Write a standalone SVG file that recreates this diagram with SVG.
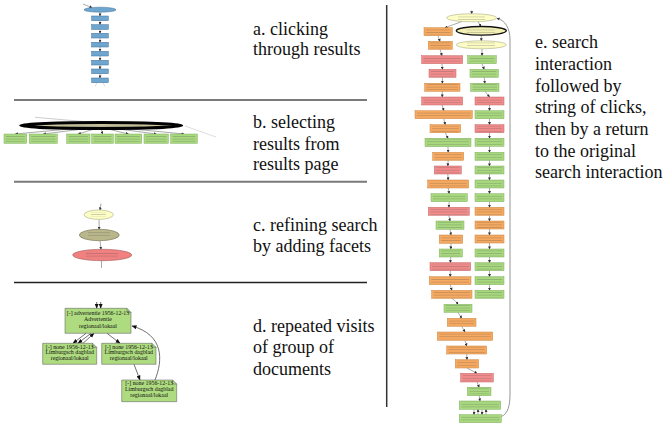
<svg xmlns="http://www.w3.org/2000/svg" width="664" height="426" viewBox="0 0 664 426">
<defs>
<style>
.lbl{font-family:"Liberation Serif","Times New Roman",serif;font-size:18px;fill:#111}
.nt{font-family:"Liberation Serif","Times New Roman",serif;font-size:5.9px;fill:#111;text-anchor:middle}
.g{fill:#a8d97e;stroke:#7fae5c;stroke-width:0.5}
.o{fill:#f6a960;stroke:#c98540;stroke-width:0.5}
.r{fill:#f28c8c;stroke:#c46464;stroke-width:0.5}
.y{fill:#fdfdc6;stroke:#9a9a70;stroke-width:0.5}
.bl{fill:#6fa6d0;stroke:#3f6f96;stroke-width:0.5}
.t{fill:url(#txt)}
.e{fill:none;stroke:#555;stroke-width:0.5;marker-end:url(#ah)}
.ed{fill:none;stroke:#333;stroke-width:0.7;marker-end:url(#ahd)}
.sep{stroke:#7a7a7a;stroke-width:2}
</style>
<pattern id="txt" width="4" height="2.6" patternUnits="userSpaceOnUse">
<rect x="0" y="1" width="4" height="0.6" fill="#444" fill-opacity="0.35"/>
</pattern>
<marker id="ah" markerWidth="3" markerHeight="3" refX="2.6" refY="1.5" orient="auto" markerUnits="userSpaceOnUse">
<path d="M0,0 L3,1.5 L0,3 Z" fill="#333"/>
</marker>
<marker id="ahd" markerWidth="5" markerHeight="5" refX="4.5" refY="2.5" orient="auto" markerUnits="userSpaceOnUse">
<path d="M0,0.5 L5,2.5 L0,4.5 Z" fill="#111"/>
</marker>
</defs>
<rect width="664" height="426" fill="#fff"/>

<g id="separators">
<line class="sep" x1="14" y1="100" x2="367" y2="100"/>
<line class="sep" x1="14" y1="181.7" x2="367" y2="181.7"/>
<line x1="14" y1="282.5" x2="367" y2="282.5" stroke="#222" stroke-width="1.3"/>
<line x1="386.7" y1="5" x2="386.7" y2="407" stroke="#333" stroke-width="1.5"/>
</g>

<g id="labels">
<text class="lbl" x="253" y="34.5">a. clicking</text>
<text class="lbl" x="253" y="55">through results</text>
<text class="lbl" x="253" y="128.3">b. selecting</text>
<text class="lbl" x="253" y="149.5">results from</text>
<text class="lbl" x="253" y="170">results page</text>
<text class="lbl" x="253" y="231">c. refining search</text>
<text class="lbl" x="253" y="252">by adding facets</text>
<text class="lbl" x="253" y="332">d. repeated visits</text>
<text class="lbl" x="253" y="353">of group of</text>
<text class="lbl" x="253" y="374.5">documents</text>
<text class="lbl" x="535" y="48">e. search</text>
<text class="lbl" x="535" y="70">interaction</text>
<text class="lbl" x="535" y="91.5">followed by</text>
<text class="lbl" x="535" y="113">string of clicks,</text>
<text class="lbl" x="535" y="135">then by a return</text>
<text class="lbl" x="535" y="156.5">to the original</text>
<text class="lbl" x="535" y="178">search interaction</text>
</g>

<g id="a-connectors">
<line class="e" x1="83" y1="4" x2="92" y2="7.6"/>
<line class="e" x1="100" y1="12.2" x2="100" y2="16"/>
<line class="e" x1="100" y1="20.7" x2="100" y2="24.7"/>
<line class="e" x1="100" y1="29.4" x2="100" y2="33.3"/>
<line class="e" x1="100" y1="38" x2="100" y2="42.3"/>
<line class="e" x1="100" y1="47" x2="100" y2="51.3"/>
<line class="e" x1="100" y1="56" x2="100" y2="60.3"/>
<line class="e" x1="100" y1="65" x2="100" y2="69"/>
<line class="e" x1="100" y1="73.7" x2="100" y2="78"/>
<line x1="97" y1="82.7" x2="95" y2="86.5" stroke="#bbb" stroke-width="0.5"/>
<line x1="103" y1="82.7" x2="105" y2="86.5" stroke="#bbb" stroke-width="0.5"/>
</g>
<g id="a-search"><ellipse class="bl" cx="100" cy="9.7" rx="16" ry="2.5"/></g>
<g id="a-n1"><rect class="bl" x="91.7" y="16" width="16.6" height="4.7"/></g>
<g id="a-n2"><rect class="bl" x="91.7" y="24.7" width="16.6" height="4.7"/></g>
<g id="a-n3"><rect class="bl" x="91.7" y="33.3" width="16.6" height="4.7"/></g>
<g id="a-n4"><rect class="bl" x="91.7" y="42.3" width="16.6" height="4.7"/></g>
<g id="a-n5"><rect class="bl" x="91.7" y="51.3" width="16.6" height="4.7"/></g>
<g id="a-n6"><rect class="bl" x="91.7" y="60.3" width="16.6" height="4.7"/></g>
<g id="a-n7"><rect class="bl" x="91.7" y="69" width="16.6" height="4.7"/></g>
<g id="a-n8"><rect class="bl" x="91.7" y="78" width="16.6" height="4.7"/></g>

<g id="b-connectors">
<line x1="35" y1="117.3" x2="96" y2="122.6" stroke="#aaa" stroke-width="0.6"/>
<line class="e" x1="80" y1="128" x2="15.3" y2="134"/>
<line class="e" x1="88" y1="128.4" x2="43.3" y2="134"/>
<line class="e" x1="96" y1="128.5" x2="78.3" y2="134"/>
<line class="e" x1="101" y1="128.5" x2="102.5" y2="134"/>
<line class="e" x1="106" y1="128.5" x2="128.3" y2="134"/>
<line class="e" x1="114" y1="128.4" x2="156.2" y2="134"/>
<line class="e" x1="122" y1="128" x2="184" y2="134"/>
<line x1="185" y1="126" x2="216" y2="137" stroke="#bbb" stroke-width="0.5"/>
</g>
<g id="b-search"><ellipse cx="101.2" cy="125.5" rx="80.5" ry="3" fill="#c9c6a0" stroke="#000" stroke-width="3"/><rect class="t" x="60" y="124" width="82" height="3"/></g>
<g id="b-n1"><rect class="g" x="4" y="134" width="22.7" height="9.3"/><rect class="t" x="6" y="135.5" width="18.7" height="6.5"/></g>
<g id="b-n2"><rect class="g" x="29.3" y="134" width="28" height="9.3"/><rect class="t" x="31.3" y="135.5" width="24" height="6.5"/></g>
<g id="b-n3"><rect class="g" x="66.7" y="134" width="23.3" height="9.3"/><rect class="t" x="68.7" y="135.5" width="19.3" height="6.5"/></g>
<g id="b-n4"><rect class="g" x="91.7" y="134" width="21.6" height="9.3"/><rect class="t" x="93.7" y="135.5" width="17.6" height="6.5"/></g>
<g id="b-n5"><rect class="g" x="115" y="134" width="26.7" height="9.3"/><rect class="t" x="117" y="135.5" width="22.7" height="6.5"/></g>
<g id="b-n6"><rect class="g" x="144" y="134" width="24.3" height="9.3"/><rect class="t" x="146" y="135.5" width="20.3" height="6.5"/></g>
<g id="b-n7"><rect class="g" x="170.7" y="134" width="26.6" height="9.3"/><rect class="t" x="172.7" y="135.5" width="22.6" height="6.5"/></g>

<g id="c-connectors">
<line class="e" x1="101" y1="203.5" x2="100" y2="210"/>
<line class="e" x1="99" y1="219.4" x2="99.2" y2="229.3"/>
<line class="e" x1="100" y1="240.7" x2="101" y2="249.3"/>
<line x1="101.5" y1="260.7" x2="101.5" y2="268" stroke="#555" stroke-width="0.5"/>
</g>
<g id="c-s1"><ellipse class="y" cx="98.7" cy="214.7" rx="14.7" ry="4.7"/><rect class="t" x="91" y="212" width="15" height="5"/></g>
<g id="c-s2"><ellipse cx="99.3" cy="235" rx="20" ry="5.7" fill="#b8b68a" stroke="#6e6c4a" stroke-width="0.6"/><rect class="t" x="88" y="232" width="22" height="5"/></g>
<g id="c-s3"><ellipse cx="102.2" cy="255" rx="29.5" ry="5.7" fill="#f18080" stroke="#a05a5a" stroke-width="0.6"/><rect class="t" x="86" y="252" width="32" height="5"/></g>

<g id="d-connectors">
<line class="ed" x1="96.7" y1="302" x2="96.7" y2="308.3"/>
<line class="ed" x1="100.7" y1="302" x2="100.7" y2="308.3"/>
<line class="ed" x1="86" y1="333.3" x2="73" y2="343.3"/>
<line class="ed" x1="91" y1="333.3" x2="78" y2="343.3"/>
<line class="ed" x1="83" y1="343.3" x2="94" y2="333.3"/>
<line class="ed" x1="107" y1="333.3" x2="120" y2="343.3"/>
<line class="ed" x1="134" y1="364.3" x2="140" y2="380"/>
<path class="ed" d="M155,380 C163,360 164,335 132,326"/>
</g>
<g id="d-a">
<path d="M65,308.3 H127 L131,312.3 V333.3 H65 Z" fill="#aedb80" stroke="#555" stroke-width="0.5"/>
<path d="M127,308.3 V312.3 H131" fill="none" stroke="#555" stroke-width="0.5"/>
<text class="nt" x="98" y="314.5">[-] advertentie 1956-12-13</text>
<text class="nt" x="98" y="321">Advertentie</text>
<text class="nt" x="98" y="327.7">regionaal/lokaal</text>
</g>
<g id="d-b">
<path d="M42.7,343.3 H92.7 L96.7,347.3 V364.3 H42.7 Z" fill="#aedb80" stroke="#555" stroke-width="0.5"/>
<path d="M92.7,343.3 V347.3 H96.7" fill="none" stroke="#555" stroke-width="0.5"/>
<text class="nt" x="69.7" y="348.5">[-] none 1956-12-13</text>
<text class="nt" x="69.7" y="354.3">Limburgsch dagblad</text>
<text class="nt" x="69.7" y="360.3">regionaal/lokaal</text>
</g>
<g id="d-c">
<path d="M101.7,343.3 H152 L156,347.3 V364.3 H101.7 Z" fill="#aedb80" stroke="#555" stroke-width="0.5"/>
<path d="M152,343.3 V347.3 H156" fill="none" stroke="#555" stroke-width="0.5"/>
<text class="nt" x="128.8" y="348.5">[-] none 1956-12-13</text>
<text class="nt" x="128.8" y="354.3">Limburgsch dagblad</text>
<text class="nt" x="128.8" y="360.3">regionaal/lokaal</text>
</g>
<g id="d-d">
<path d="M121.7,380 H172.7 L176.7,384 V401.7 H121.7 Z" fill="#aedb80" stroke="#555" stroke-width="0.5"/>
<path d="M172.7,380 V384 H176.7" fill="none" stroke="#555" stroke-width="0.5"/>
<text class="nt" x="149.2" y="385.3">[-] none 1956-12-13</text>
<text class="nt" x="149.2" y="391.1">Limburgsch dagblad</text>
<text class="nt" x="149.2" y="397.1">regionaal/lokaal</text>
</g>

<g id="e-connectors">
<line class="e" x1="471.7" y1="10.5" x2="471.7" y2="13.8"/>
<line class="e" x1="462" y1="21.5" x2="445" y2="27.7"/>
<line class="e" x1="478" y1="21.7" x2="481" y2="26.3"/>
<line class="e" x1="481.3" y1="35.3" x2="481.3" y2="40.8"/>
<line class="e" x1="482" y1="48.8" x2="482" y2="55.7"/>
<path d="M501.3,416.5 C508,414 510,405 510,395 L510,40 C510,28 505,20 497,18.5" fill="none" stroke="#888" stroke-width="0.9" marker-end="url(#ah)"/>
<line class="e" x1="438" y1="35.7" x2="440" y2="41.3"/>
<line class="e" x1="440" y1="49.3" x2="442" y2="55.7"/>
<line class="e" x1="442" y1="63.7" x2="442.5" y2="69.3"/>
<line class="e" x1="442.5" y1="77.3" x2="442.3" y2="83.3"/>
<line class="e" x1="442.3" y1="91.3" x2="442.2" y2="97"/>
<line class="e" x1="442.2" y1="105" x2="443.7" y2="110.7"/>
<line class="e" x1="443.7" y1="118.7" x2="445.3" y2="124.7"/>
<line class="e" x1="445.3" y1="132.7" x2="448" y2="138.3"/>
<line class="e" x1="448" y1="146.7" x2="448.2" y2="152.3"/>
<line class="e" x1="448.2" y1="160.3" x2="447.8" y2="166"/>
<line class="e" x1="447.8" y1="174" x2="448.2" y2="180"/>
<line class="e" x1="448.2" y1="188" x2="449.2" y2="193.7"/>
<line class="e" x1="449.2" y1="201.7" x2="448.8" y2="207.3"/>
<line class="e" x1="448.8" y1="215.3" x2="450" y2="221"/>
<line class="e" x1="450" y1="229.3" x2="451" y2="235"/>
<line class="e" x1="451" y1="243.3" x2="450.8" y2="249"/>
<line class="e" x1="450.8" y1="257" x2="450.3" y2="262.7"/>
<line class="e" x1="450.3" y1="270.7" x2="450.2" y2="276.7"/>
<line class="e" x1="450.2" y1="284.7" x2="451.8" y2="290.3"/>
<path class="e" d="M451.8,298.3 C454,300 456,301 458,304.3"/>
<line class="e" x1="458" y1="312.3" x2="461.7" y2="318.3"/>
<line class="e" x1="461.7" y1="326.3" x2="465" y2="332"/>
<line class="e" x1="465" y1="340.3" x2="466.7" y2="346"/>
<line class="e" x1="466.7" y1="354" x2="467" y2="359.7"/>
<line class="e" x1="467" y1="368" x2="477" y2="373.3"/>
<line class="e" x1="477" y1="382" x2="479.2" y2="387.3"/>
<line class="e" x1="479.2" y1="395.7" x2="480" y2="401"/>
<line class="e" x1="474" y1="409.3" x2="474" y2="414.7"/>
<line class="e" x1="478" y1="414.7" x2="478" y2="409.3"/>
<line class="e" x1="482" y1="409.3" x2="482" y2="414.7"/>
<line class="e" x1="486" y1="414.7" x2="486" y2="409.3"/>
<line class="e" x1="482" y1="63.7" x2="484.2" y2="69.3"/>
<line class="e" x1="484.2" y1="77.3" x2="484.9" y2="83.3"/>
<line class="e" x1="484.9" y1="91.3" x2="489.5" y2="97"/>
<line class="e" x1="489.5" y1="105" x2="489.5" y2="110.7"/>
<line class="e" x1="489.5" y1="118.7" x2="489.5" y2="124.7"/>
<line class="e" x1="489.5" y1="132.7" x2="489.5" y2="138.3"/>
<line class="e" x1="489.5" y1="146.3" x2="489.5" y2="152.3"/>
<line class="e" x1="489.5" y1="160.3" x2="489.5" y2="166"/>
<line class="e" x1="489.5" y1="174" x2="489.5" y2="180"/>
<line class="e" x1="489.5" y1="188" x2="489.5" y2="193.7"/>
<line class="e" x1="489.5" y1="201.7" x2="489.5" y2="207.3"/>
<line class="e" x1="489.5" y1="215.3" x2="489.5" y2="221"/>
<line class="e" x1="489.5" y1="229" x2="489.5" y2="235"/>
<line class="e" x1="489.5" y1="243" x2="489.5" y2="249"/>
<line class="e" x1="489.5" y1="257" x2="489.5" y2="262.7"/>
<line class="e" x1="489.5" y1="270.7" x2="489.5" y2="276.7"/>
<line class="e" x1="489.5" y1="284.7" x2="489.5" y2="290.3"/>
</g>

<g id="e-s1"><ellipse class="y" cx="471.7" cy="17.8" rx="25" ry="4"/><rect class="t" x="458" y="15" width="27" height="5.5"/></g>
<g id="e-s2"><ellipse cx="481.3" cy="30.8" rx="25" ry="4.3" fill="#f3f0b4" stroke="#111" stroke-width="1.4"/><rect class="t" x="467" y="28" width="28" height="5.5"/></g>
<g id="e-s3"><ellipse class="y" cx="481.3" cy="44.8" rx="25" ry="4"/><rect class="t" x="467" y="42" width="28" height="5.5"/></g>

<g id="e-l1"><rect class="o" x="424" y="27.7" width="28.3" height="8"/><rect class="t" x="426" y="28.5" width="24.3" height="6.5"/></g>
<g id="e-l2"><rect class="o" x="428.3" y="41.3" width="24" height="8"/><rect class="t" x="430.3" y="42.1" width="20" height="6.5"/></g>
<g id="e-l3"><rect class="r" x="421.7" y="55.7" width="41" height="8"/><rect class="t" x="423.7" y="56.5" width="37" height="6.5"/></g>
<g id="e-l4"><rect class="r" x="429" y="69.3" width="27" height="8"/><rect class="t" x="431" y="70.1" width="23" height="6.5"/></g>
<g id="e-l5"><rect class="o" x="424.7" y="83.3" width="35.3" height="8"/><rect class="t" x="426.7" y="84.1" width="31.3" height="6.5"/></g>
<g id="e-l6"><rect class="r" x="421.7" y="97" width="41" height="8"/><rect class="t" x="423.7" y="97.8" width="37" height="6.5"/></g>
<g id="e-l7"><rect class="o" x="415" y="110.7" width="57.3" height="8"/><rect class="t" x="417" y="111.5" width="53.3" height="6.5"/></g>
<g id="e-l8"><rect class="o" x="430" y="124.7" width="30.7" height="8"/><rect class="t" x="432" y="125.5" width="26.7" height="6.5"/></g>
<g id="e-l9"><rect class="g" x="425" y="138.3" width="46" height="8.4"/><rect class="t" x="427" y="139.1" width="42" height="6.5"/></g>
<g id="e-l10"><rect class="o" x="432.7" y="152.3" width="31" height="8"/><rect class="t" x="434.7" y="153.1" width="27" height="6.5"/></g>
<g id="e-l11"><rect class="r" x="434.3" y="166" width="27" height="8"/><rect class="t" x="436.3" y="166.8" width="23" height="6.5"/></g>
<g id="e-l12"><rect class="o" x="427.7" y="180" width="41" height="8"/><rect class="t" x="429.7" y="180.8" width="37" height="6.5"/></g>
<g id="e-l13"><rect class="g" x="431" y="193.7" width="36.3" height="8"/><rect class="t" x="433" y="194.5" width="32.3" height="6.5"/></g>
<g id="e-l14"><rect class="r" x="428.3" y="207.3" width="41" height="8"/><rect class="t" x="430.3" y="208.1" width="37" height="6.5"/></g>
<g id="e-l15"><rect class="g" x="436" y="221" width="28" height="8.3"/><rect class="t" x="438" y="221.8" width="24" height="6.5"/></g>
<g id="e-l16"><rect class="o" x="439.3" y="235" width="23.4" height="8.3"/><rect class="t" x="441.3" y="235.8" width="19.4" height="6.5"/></g>
<g id="e-l17"><rect class="g" x="439.3" y="249" width="23" height="8"/><rect class="t" x="441.3" y="249.8" width="19" height="6.5"/></g>
<g id="e-l18"><rect class="r" x="430" y="262.7" width="40.7" height="8"/><rect class="t" x="432" y="263.5" width="36.7" height="6.5"/></g>
<g id="e-l19"><rect class="o" x="429.3" y="276.7" width="41.7" height="8"/><rect class="t" x="431.3" y="277.5" width="37.7" height="6.5"/></g>
<g id="e-l20"><rect class="o" x="431.7" y="290.3" width="40.3" height="8"/><rect class="t" x="433.7" y="291.1" width="36.3" height="6.5"/></g>
<g id="e-l21"><rect class="g" x="444" y="304.3" width="28" height="8"/><rect class="t" x="446" y="305.1" width="24" height="6.5"/></g>
<g id="e-l22"><rect class="o" x="447.3" y="318.3" width="28.7" height="8"/><rect class="t" x="449.3" y="319.1" width="24.7" height="6.5"/></g>
<g id="e-l23"><rect class="o" x="437.3" y="332" width="55.4" height="8.3"/><rect class="t" x="439.3" y="332.8" width="51.4" height="6.5"/></g>
<g id="e-l24"><rect class="o" x="446.7" y="346" width="40" height="8"/><rect class="t" x="448.7" y="346.8" width="36" height="6.5"/></g>
<g id="e-l25"><rect class="o" x="455.3" y="359.7" width="23.4" height="8.3"/><rect class="t" x="457.3" y="360.5" width="19.4" height="6.5"/></g>
<g id="e-l26"><rect class="r" x="460.7" y="373.3" width="32.6" height="8.7"/><rect class="t" x="462.7" y="374.3" width="28.6" height="6.5"/></g>
<g id="e-l27"><rect class="g" x="467.3" y="387.3" width="23.7" height="8.4"/><rect class="t" x="469.3" y="388.1" width="19.7" height="6.5"/></g>
<g id="e-l28"><rect class="g" x="459.3" y="401" width="41.4" height="8.3"/><rect class="t" x="461.3" y="401.8" width="37.4" height="6.5"/></g>
<g id="e-l29"><rect class="g" x="459.3" y="414.7" width="42" height="8"/><rect class="t" x="461.3" y="415.5" width="38" height="6.5"/></g>

<g id="e-r1"><rect class="g" x="467.7" y="55.7" width="28.6" height="8"/><rect class="t" x="469.7" y="56.5" width="24.6" height="6.5"/></g>
<g id="e-r2"><rect class="g" x="470" y="69.3" width="28.3" height="8"/><rect class="t" x="472" y="70.1" width="24.3" height="6.5"/></g>
<g id="e-r3"><rect class="g" x="470.7" y="83.3" width="28.3" height="8"/><rect class="t" x="472.7" y="84.1" width="24.3" height="6.5"/></g>
<g id="e-r4"><rect class="r" x="475" y="97" width="29" height="8"/><rect class="t" x="477" y="97.8" width="25" height="6.5"/></g>
<g id="e-r5"><rect class="g" x="475" y="110.7" width="29" height="8"/><rect class="t" x="477" y="111.5" width="25" height="6.5"/></g>
<g id="e-r6"><rect class="r" x="475" y="124.7" width="29" height="8"/><rect class="t" x="477" y="125.5" width="25" height="6.5"/></g>
<g id="e-r7"><rect class="g" x="475" y="138.3" width="29" height="8"/><rect class="t" x="477" y="139.1" width="25" height="6.5"/></g>
<g id="e-r8"><rect class="g" x="475" y="152.3" width="29" height="8"/><rect class="t" x="477" y="153.1" width="25" height="6.5"/></g>
<g id="e-r9"><rect class="g" x="475" y="166" width="29" height="8"/><rect class="t" x="477" y="166.8" width="25" height="6.5"/></g>
<g id="e-r10"><rect class="g" x="475" y="180" width="29" height="8"/><rect class="t" x="477" y="180.8" width="25" height="6.5"/></g>
<g id="e-r11"><rect class="g" x="475" y="193.7" width="29" height="8"/><rect class="t" x="477" y="194.5" width="25" height="6.5"/></g>
<g id="e-r12"><rect class="o" x="475" y="207.3" width="29" height="8"/><rect class="t" x="477" y="208.1" width="25" height="6.5"/></g>
<g id="e-r13"><rect class="o" x="475" y="221" width="29" height="8"/><rect class="t" x="477" y="221.8" width="25" height="6.5"/></g>
<g id="e-r14"><rect class="o" x="475" y="235" width="29" height="8"/><rect class="t" x="477" y="235.8" width="25" height="6.5"/></g>
<g id="e-r15"><rect class="g" x="475" y="249" width="29" height="8"/><rect class="t" x="477" y="249.8" width="25" height="6.5"/></g>
<g id="e-r16"><rect class="g" x="475" y="262.7" width="29" height="8"/><rect class="t" x="477" y="263.5" width="25" height="6.5"/></g>
<g id="e-r17"><rect class="g" x="475" y="276.7" width="29" height="8"/><rect class="t" x="477" y="277.5" width="25" height="6.5"/></g>
<g id="e-r18"><rect class="g" x="475" y="290.3" width="29" height="8"/><rect class="t" x="477" y="291.1" width="25" height="6.5"/></g>
</svg>
